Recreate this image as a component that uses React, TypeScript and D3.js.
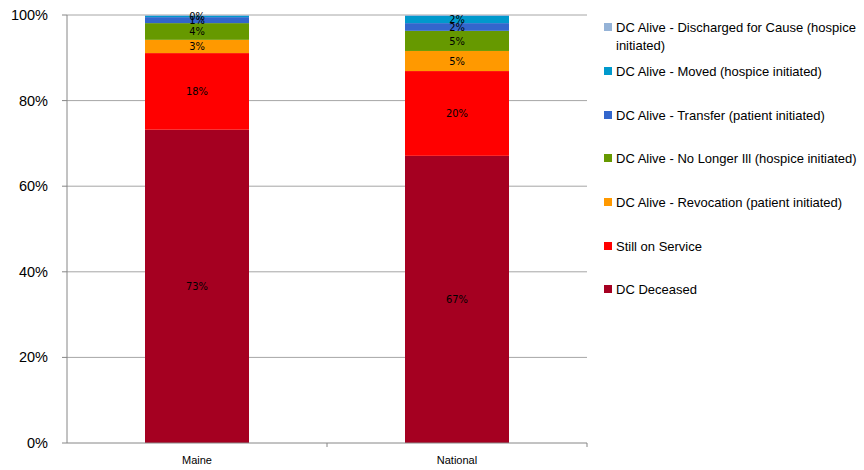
import React from "react";
import * as d3 from "d3";

const categories = ["Maine", "National"];
const seriesNames = [
  "DC Deceased",
  "Still on Service",
  "DC Alive - Revocation (patient initiated)",
  "DC Alive - No Longer Ill (hospice initiated)",
  "DC Alive - Transfer (patient initiated)",
  "DC Alive - Moved (hospice initiated)",
  "DC Alive - Discharged for Cause (hospice initiated)",
];
const maineValues = [73.2, 17.9, 3.1, 3.9, 1.4, 0.3, 0.2];
const nationalValues = [67.1, 19.8, 4.7, 4.7, 1.8, 1.7, 0.2];
const seriesColors = ["#A50021", "#FF0000", "#FF9900", "#669900", "#3366CC", "#0099CC", "#95B3D7"];
const showLabel = [true, true, true, true, true, true, false];
const yTicks = [0, 20, 40, 60, 80, 100];

export default function App() {
  const W = 864, H = 470;
  const left = 67, right = 587, top = 15, bottom = 443;
  const x = d3.scaleBand<string>().domain(categories).range([left, right]).paddingInner(0).paddingOuter(0);
  const y = d3.scaleLinear().domain([0, 100]).range([bottom, top]);
  const barW = x.bandwidth() * 0.4;
  const valuesByCat = [maineValues, nationalValues];
  const rows = categories.map((c, i) => {
    const obj: any = { cat: c };
    seriesNames.forEach((s, j) => (obj[s] = valuesByCat[i][j]));
    return obj;
  });
  const stack = d3.stack<any>().keys(seriesNames)(rows);

  const legendX = 604;
  const legendYs = [27, 71, 115, 158, 202, 246, 289];
  const legendOrder = [...seriesNames].reverse();
  const legendColors = [...seriesColors].reverse();

  return (
    <svg width={W} height={H} style={{ position: "absolute", left: 0, top: 0, background: "#fff" }}>
      {yTicks.filter((t) => t > 0).map((t) => (
        <line key={t} x1={left} x2={right} y1={y(t)} y2={y(t)} stroke="#a6a6a6" strokeWidth={1} />
      ))}
      {stack.map((layer, si) =>
        layer.map((d, ci) => (
          <rect
            key={si + "-" + ci}
            x={x(categories[ci])! + (x.bandwidth() - barW) / 2}
            y={y(d[1])}
            width={barW}
            height={y(d[0]) - y(d[1])}
            fill={seriesColors[si]}
          />
        ))
      )}
      {stack.map((layer, si) =>
        showLabel[si]
          ? layer.map((d, ci) => (
              <text
                key={"l" + si + "-" + ci}
                x={x(categories[ci])! + x.bandwidth() / 2}
                y={(y(d[0]) + y(d[1])) / 2}
                dy="0.35em"
                textAnchor="middle"
                fontFamily="DejaVu Sans Condensed, DejaVu Sans"
                fontSize={11}
                fill="#000"
              >
                {Math.round(d[1] - d[0]) + "%"}
              </text>
            ))
          : null
      )}
      <line x1={left} x2={left} y1={top} y2={bottom} stroke="#868686" />
      <line x1={left} x2={right} y1={bottom} y2={bottom} stroke="#868686" />
      {yTicks.map((t) => (
        <g key={"t" + t}>
          <line x1={left - 5} x2={left} y1={y(t)} y2={y(t)} stroke="#868686" />
          <text x={48} y={y(t)} dy="0.35em" textAnchor="end" fontFamily="Liberation Sans, Arial" fontSize={14.5} fill="#000">
            {t + "%"}
          </text>
        </g>
      ))}
      {categories.map((c, i) =>
        i > 0 ? <line key={"ct" + c} x1={x(c)!} x2={x(c)!} y1={bottom} y2={bottom + 4} stroke="#868686" /> : null
      )}
      <line x1={right} x2={right} y1={bottom} y2={bottom + 4} stroke="#868686" />
      {categories.map((c) => (
        <text key={"c" + c} x={x(c)! + x.bandwidth() / 2} y={460} dy="0.35em" textAnchor="middle" fontFamily="Liberation Sans, Arial" fontSize={11} fill="#000">
          {c}
        </text>
      ))}
      {legendOrder.map((s, i) => {
        const yy = legendYs[i];
        const isLong = i === 0;
        return (
          <g key={"lg" + i}>
            <rect x={legendX} y={yy - 4} width={8} height={8} fill={legendColors[i]} />
            <text x={616} y={yy} dy="0.35em" fontFamily="Liberation Sans, Arial" fontSize={13} fill="#000">
              {isLong ? "DC Alive - Discharged for Cause (hospice" : s}
            </text>
            {isLong ? (
              <text x={616} y={yy + 18} dy="0.35em" fontFamily="Liberation Sans, Arial" fontSize={13} fill="#000">
                initiated)
              </text>
            ) : null}
          </g>
        );
      })}
    </svg>
  );
}
